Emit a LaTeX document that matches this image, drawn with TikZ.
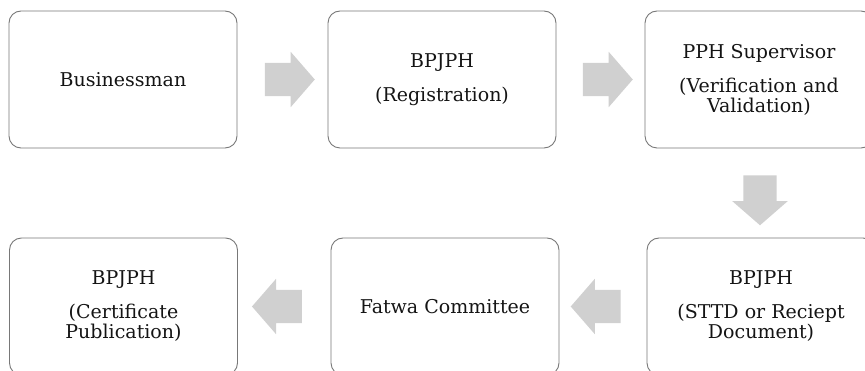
\documentclass[tikz,border=0pt]{standalone}
\usepackage{fontspec}
\setmainfont{DejaVu Serif}
\usetikzlibrary{shapes.arrows,calc}
\definecolor{boxline}{RGB}{120,120,120}
\definecolor{arrowgray}{RGB}{208,208,208}
\definecolor{textgray}{RGB}{20,20,20}
\tikzstyle{stepbox}=[draw=boxline,line width=0.9pt,rounded corners=12pt,minimum width=228pt,minimum height=137pt,inner sep=0pt,align=center,text=textgray,font=\fontsize{19}{20}\selectfont]
\tikzstyle{blockarrow}=[single arrow,fill=arrowgray,draw=none,minimum height=50pt,minimum width=55pt,inner sep=16.5pt,single arrow head extend=11pt,single arrow tip angle=98]

\begin{document}
\begin{tikzpicture}[x=1pt,y=-1pt]

   \useasboundingbox (0,0) rectangle (865,371);
   \def\ytop{79.5}
   \def\ybot{306.5}

%top row
    \foreach \pos/\name/\txt in {{(123,\ytop)/biz/Businessman}, {(442,\ytop)/reg/{BPJPH\\[14pt](Registration)}}, {(759,\ytop)/sup/{PPH Supervisor\\[14pt](Verification and\\Validation)}}}
        \node[stepbox] (\name) at \pos {\txt};

%bottom row
    \foreach \pos/\name/\txt in {{(123.5,\ybot)/cert/{BPJPH\\[14pt](Certificate\\Publication)}}, {(445,\ybot)/fatwa/{Fatwa Committee}}, {(761,\ybot)/sttd/{BPJPH\\[14pt](STTD or Reciept\\Document)}}}
        \node[stepbox] (\name) at \pos {\txt};

% block arrows between the steps
    \foreach \source/\dest/\rot in {biz/reg/0, reg/sup/0, sup/sttd/270, sttd/fatwa/180, fatwa/cert/180}
        \node[blockarrow,shape border rotate=\rot] (\source-\dest) at ($(\source)!0.5!(\dest)$) {};

\end{tikzpicture}
\end{document}
